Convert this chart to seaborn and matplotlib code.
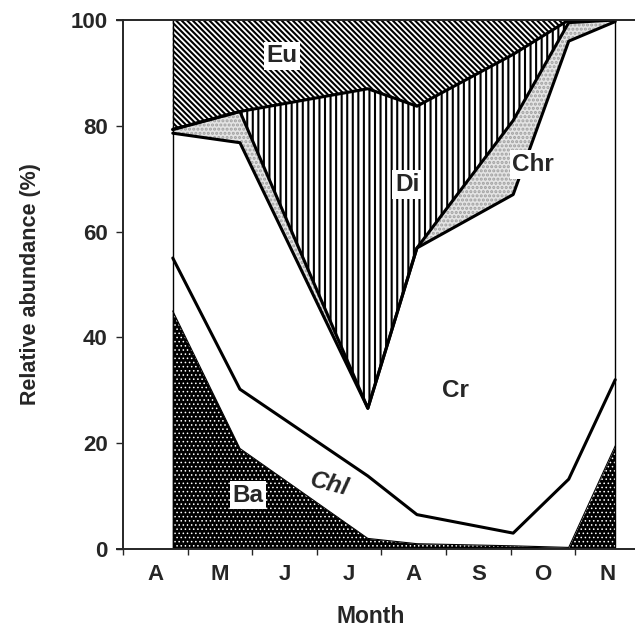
import matplotlib
matplotlib.use("Agg")
import matplotlib.pyplot as plt
import seaborn as sns
import numpy as np

# sampling dates, in months counted from 1 April
sample_month = [0.77, 1.81, 3.79, 4.55, 6.04, 6.90, 7.62]

# relative abundance (%) of each group at each sampling date
ba = [45.0, 19.0, 2.0, 1.0, 0.6, 0.3, 19.5]
chl = [10.0, 11.2, 11.8, 5.5, 2.4, 12.9, 12.5]
cr = [23.6, 46.6, 12.8, 50.4, 64.0, 82.8, 67.7]
chr_ = [0.7, 5.9, 0.0, 0.0, 14.0, 3.5, 0.3]
di = [0.0, 0.0, 60.4, 26.8, 12.5, 0.5, 0.0]
eu = [20.7, 17.3, 13.0, 16.3, 6.5, 0.0, 0.0]

month_labels = ["A", "M", "J", "J", "A", "S", "O", "N"]
y_ticks = [0, 20, 40, 60, 80, 100]

sns.set_style("ticks")
plt.rcParams['font.family'] = ['Liberation Sans', 'DejaVu Sans']
plt.rcParams['font.weight'] = 'bold'
plt.rcParams['hatch.linewidth'] = 1.5

fig = plt.figure(figsize=(6.35, 6.28), dpi=100)
ax = fig.add_axes([0.1843, 0.1258, 0.8157, 0.8424])

# (values, face colour, hatch, hatch colour, hatch width)
layers = [
    (ba, "#000000", "....", "white", 0.6),
    (chl, "white", None, "black", 1.5),
    (cr, "white", None, "black", 1.5),
    (chr_, "#e4e4e4", "....", "#a0a0a0", 1.5),
    (di, "white", "|||", "black", 1.5),
    (eu, "white", "\\\\\\\\\\\\", "black", 1.5),
]

lower = np.zeros(len(sample_month))
tops = []
for vals, face, hatch, hcol, hlw in layers:
    upper = lower + np.array(vals)
    with plt.rc_context({'hatch.linewidth': hlw}):
        ax.fill_between(sample_month, lower, upper, facecolor=face, hatch=hatch,
                        edgecolor=hcol, linewidth=0)
    tops.append(upper)
    lower = upper

# boundary lines between groups
sns.lineplot(x=sample_month, y=tops[0], color="black", linewidth=0.8, ax=ax)
for t in tops[1:5]:
    sns.lineplot(x=sample_month, y=t, color="black", linewidth=2.2, ax=ax)
ax.axvline(sample_month[0], color="black", linewidth=1.0)
ax.axvline(sample_month[-1], color="black", linewidth=1.0)

# group labels
box = dict(facecolor="white", edgecolor="none", pad=2)
lab = dict(fontsize=17.5, ha="center", va="center")
ax.text(2.46, 93.2, "Eu", bbox=box, **lab)
ax.text(4.40, 68.9, "Di", bbox=box, **lab)
ax.text(6.35, 72.7, "Chr", bbox=box, **lab)
ax.text(5.14, 30.0, "Cr", **lab)
ax.text(3.19, 12.3, "Chl", style="italic", rotation=-14, **lab)
ax.text(1.93, 10.2, "Ba", bbox=box, **lab)

ax.set_xlim(-0.093, 7.926)
ax.set_ylim(0, 100)

ax.spines['left'].set_position(('data', 0))
ax.spines['right'].set_visible(False)
for s in ['left', 'top', 'bottom']:
    ax.spines[s].set_linewidth(1.4)

ax.set_xticks(range(0, 8))
ax.set_xticklabels([])
ax.set_xticks([m + 0.5 for m in range(8)], minor=True)
ax.set_xticklabels(month_labels, minor=True, fontsize=16, fontweight="bold")
ax.tick_params(axis="x", which="major", length=4, width=1, direction="out")
ax.tick_params(axis="x", which="minor", length=0, pad=10.5)

ax.set_yticks(y_ticks)
ax.set_yticklabels([str(v) for v in y_ticks], fontsize=16, fontweight="bold")
ax.tick_params(axis="y", length=5, width=1, direction="out", pad=6)

ax.set_ylabel("Relative abundance (%)", fontsize=15.5, fontweight="bold")
ax.yaxis.set_label_coords(-0.146, 0.5)
ax.set_xlabel("Month", fontsize=16.5, fontweight="bold")
ax.xaxis.set_label_coords(0.49, -0.105)

fig.savefig("out.png", dpi=100)
